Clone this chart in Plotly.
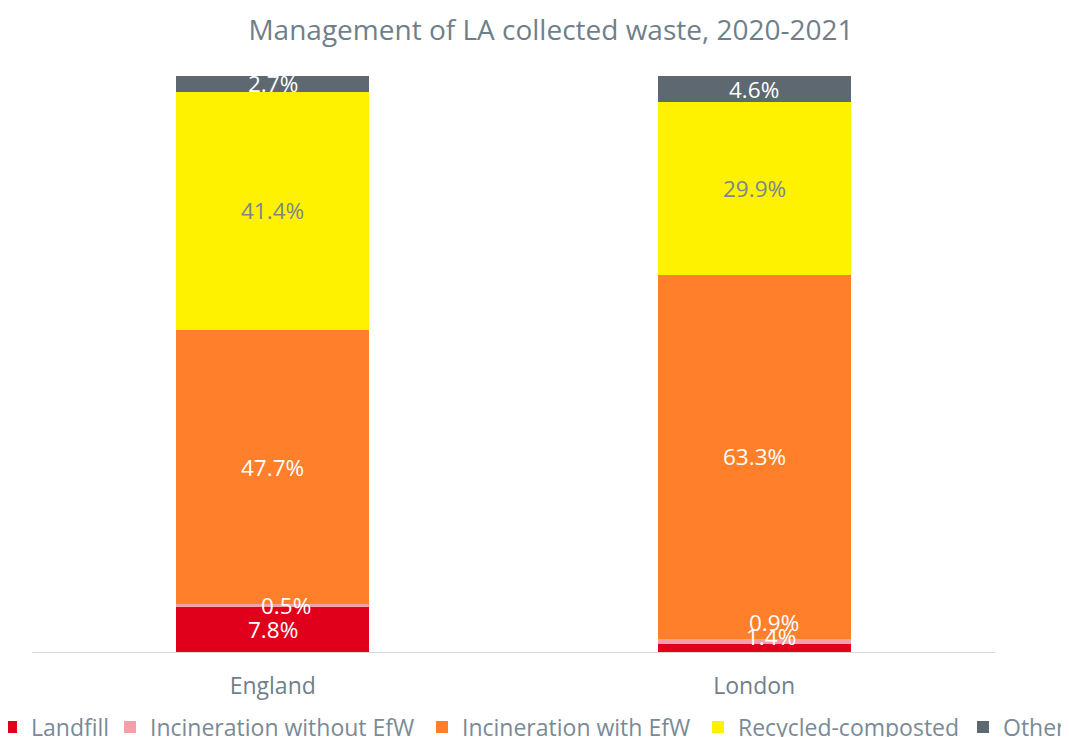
import plotly.graph_objects as go

categories = ["England", "London"]
series_names = ["Landfill", "Incineration without EfW", "Incineration with EfW", "Recycled-composted", "Other"]
landfill = [7.8, 1.4]
incin_without = [0.5, 0.9]
incin_with = [47.7, 63.3]
recycled = [41.4, 29.9]
other = [2.7, 4.6]

series_values = [landfill, incin_without, incin_with, recycled, other]
colors = ["#E0001B", "#F4A0A8", "#FF7F2A", "#FFF200", "#5D6870"]
label_colors = ["white", "white", "white", "#7A8790", "white"]
# per-label pixel offsets (style only): [series][category] -> (xshift, yshift)
label_shifts = [
    [(0, 0), (17, 11)],
    [(13, 0), (20, 19)],
    [(0, 0), (0, 0)],
    [(0, 0), (0, 0)],
    [(0, 0), (0, 0)],
]
# legend swatch centres in page pixels (layout only)
legend_px = [19, 138, 450, 726, 991]

FONT = "Open Sans"
W, H = 1069, 737
OFF = 8  # page body margin offset

ml, mt = 32 - OFF, 76 - OFF
mr = W - (995 - OFF)
mb = H - (652 - OFF)
plot_w = W - ml - mr
plot_h = H - mt - mb

fig = go.Figure()
legend_ids = ["legend", "legend2", "legend3", "legend4", "legend5"]
for name, vals, col, lid in zip(series_names, series_values, colors, legend_ids):
    fig.add_trace(go.Bar(x=categories, y=vals, name=name, legend=lid,
                         marker=dict(color=col, line=dict(width=0))))

annotations = []
cum = [0.0] * len(categories)
for si, vals in enumerate(series_values):
    for ci, v in enumerate(vals):
        xs, ys = label_shifts[si][ci]
        annotations.append(dict(
            x=categories[ci], y=cum[ci] + v / 2, xref="x", yref="y",
            text=f"{v:.1f}%", showarrow=False, xshift=xs, yshift=ys,
            font=dict(family=FONT, size=22.5, color=label_colors[si]),
        ))
        cum[ci] += v

legend_y = -((727 - OFF) - (H - mb)) / plot_h
legends = {}
for lid, cx in zip(legend_ids, legend_px):
    legends[lid] = dict(orientation="h", x=((cx + 5 - 33) - OFF - ml) / plot_w, xanchor="left",
                        y=legend_y, yanchor="middle", bgcolor="rgba(0,0,0,0)",
                        font=dict(family=FONT, size=23, color="#7A8A96"), itemclick=False)

fig.update_layout(
    barmode="stack",
    bargap=0.6,
    width=W, height=H,
    margin=dict(l=ml, r=mr, t=mt, b=mb, autoexpand=False),
    paper_bgcolor="white", plot_bgcolor="white",
    title=dict(text="Management of LA collected waste, 2020-2021", x=(551 - OFF) / W, xanchor="center",
               y=1 - (30 - OFF) / H, yanchor="middle", yref="container",
               font=dict(family=FONT, size=28, color="#6F7F8A")),
    xaxis=dict(showline=True, linecolor="#D9D9D9", linewidth=1, ticks="outside", ticklen=13,
               tickcolor="rgba(0,0,0,0)",
               tickfont=dict(family=FONT, size=23, color="#6F7F8A")),
    yaxis=dict(range=[0, 100.1], visible=False, showgrid=False),
    annotations=annotations,
    showlegend=True,
    **legends,
)
fig.write_html("out.html")
